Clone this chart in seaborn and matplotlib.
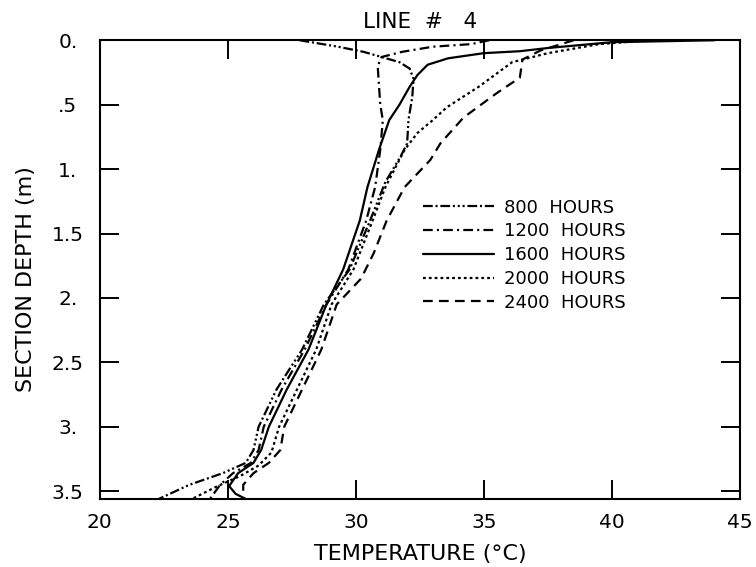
import matplotlib
matplotlib.use("Agg")
import matplotlib.pyplot as plt
import pandas as pd
import seaborn as sns

# Temperature profiles (deg C) against section depth (m), one per time of day
hours_labels = ["800  HOURS", "1200  HOURS", "1600  HOURS", "2000  HOURS", "2400  HOURS"]

depth_800 = [0.0, 0.05, 0.09, 0.13, 0.17, 0.22, 0.30, 0.44, 0.62, 0.80, 0.90, 1.10, 1.40,
             1.78, 2.05, 2.40, 2.71, 3.00, 3.18, 3.28, 3.36, 3.45, 3.56]
temp_800 = [27.8, 29.3, 30.3, 31.0, 31.7, 32.1, 32.25, 32.2, 32.05, 32.0, 31.75, 31.15, 30.55,
            29.75, 28.75, 27.9, 26.9, 26.2, 26.0, 25.7, 24.8, 23.5, 22.3]

depth_1200 = [0.0, 0.03, 0.05, 0.09, 0.13, 0.20, 0.50, 0.62, 0.85, 1.14, 1.40,
              1.78, 2.05, 2.40, 2.71, 3.00, 3.18, 3.28, 3.36, 3.45, 3.56]
temp_1200 = [35.2, 34.5, 33.0, 31.8, 31.0, 30.85, 30.95, 31.05, 30.95, 30.75, 30.4,
             29.7, 28.85, 28.0, 27.1, 26.4, 26.2, 25.9, 25.2, 24.7, 24.3]

depth_1600 = [0.0, 0.015, 0.06, 0.085, 0.10, 0.14, 0.19, 0.27, 0.36, 0.50, 0.62, 0.85, 1.14,
              1.40, 1.78, 2.05, 2.40, 2.71, 3.00, 3.18, 3.28, 3.36, 3.46, 3.52, 3.56]
temp_1600 = [44.0, 40.0, 37.5, 36.4, 35.0, 33.6, 32.8, 32.4, 32.1, 31.7, 31.3, 30.9, 30.45,
             30.15, 29.5, 28.85, 28.15, 27.3, 26.6, 26.3, 26.0, 25.4, 25.05, 25.3, 25.7]

depth_2000 = [0.0, 0.03, 0.10, 0.17, 0.36, 0.52, 0.62, 0.72, 0.85, 1.14, 1.40,
              1.78, 2.05, 2.40, 2.71, 3.00, 3.20, 3.30, 3.38, 3.46, 3.56]
temp_2000 = [41.5, 39.5, 37.5, 36.1, 34.8, 33.55, 33.0, 32.4, 31.9, 31.15, 30.65,
             29.9, 29.05, 28.45, 27.7, 27.0, 26.7, 26.2, 25.5, 24.6, 23.6]

depth_2400 = [0.0, 0.08, 0.15, 0.29, 0.41, 0.60, 0.80, 0.93, 1.14, 1.40, 1.65,
              1.85, 2.05, 2.40, 2.71, 3.00, 3.18, 3.28, 3.36, 3.45, 3.56]
temp_2400 = [38.5, 37.2, 36.5, 36.4, 35.5, 34.2, 33.3, 32.9, 31.9, 31.2, 30.7,
             30.2, 29.25, 28.65, 27.9, 27.2, 27.05, 26.6, 26.0, 25.6, 25.6]

x_ticks = [20, 25, 30, 35, 40, 45]
x_tick_labels = ["20", "25", "30", "35", "40", "45"]
y_ticks = [0.0, 0.5, 1.0, 1.5, 2.0, 2.5, 3.0, 3.5]
y_tick_labels = ["0.", ".5", "1.", "1.5", "2.", "2.5", "3.", "3.5"]

series = [
    (hours_labels[0], temp_800, depth_800, (0, (7, 2, 1.5, 2, 7, 2, 1.5, 2, 1.5, 2, 1.5, 2))),
    (hours_labels[1], temp_1200, depth_1200, (0, (7, 3, 1.5, 3))),
    (hours_labels[2], temp_1600, depth_1600, "-"),
    (hours_labels[3], temp_2000, depth_2000, (0, (2, 2.2))),
    (hours_labels[4], temp_2400, depth_2400, (0, (7, 4.5))),
]

sns.set_style("ticks")
plt.rcParams["font.family"] = ["DejaVu Sans"]
plt.rcParams["lines.scale_dashes"] = False
for key in ["text.color", "axes.labelcolor", "xtick.color", "ytick.color", "axes.edgecolor"]:
    plt.rcParams[key] = "black"

fig = plt.figure(figsize=(7.56, 5.67), dpi=100)
ax = fig.add_axes([0.132, 0.120, 0.847, 0.809])

handles = []
for label, temps, depths, ls in series:
    df = pd.DataFrame({"temp": temps, "depth": depths})
    sns.lineplot(data=df, x="temp", y="depth", sort=False, estimator=None,
                 color="black", linewidth=1.6, linestyle=ls, ax=ax)
    handles.append(ax.lines[-1])

ax.set_xlim(20, 45)
ax.set_ylim(3.56, 0.0)
ax.set_xticks(x_ticks)
ax.set_xticklabels(x_tick_labels)
ax.set_yticks(y_ticks)
ax.set_yticklabels(y_tick_labels, ha="center")

for side in ["top", "bottom", "left", "right"]:
    ax.spines[side].set_visible(True)
    ax.spines[side].set_linewidth(1.5)

ax.tick_params(axis="both", which="major", direction="in", length=14, width=1.4,
               top=True, right=True, labelsize=14.5)
ax.tick_params(axis="x", pad=10)
ax.tick_params(axis="y", pad=23)

ax.set_xlabel("TEMPERATURE (\u00b0C)", fontsize=16, labelpad=9)
ax.set_ylabel("SECTION DEPTH (m)", fontsize=16)
ax.yaxis.set_label_coords(-0.10, 0.48)
ax.set_title("LINE  #   4", fontsize=15.5, pad=9)

ax.legend(handles, hours_labels, loc="upper left", bbox_to_anchor=(0.505, 0.655),
          frameon=False, fontsize=13, handlelength=3.9, handletextpad=0.6,
          labelspacing=0.32, borderpad=0, borderaxespad=0)

fig.savefig("out.png", dpi=100)
